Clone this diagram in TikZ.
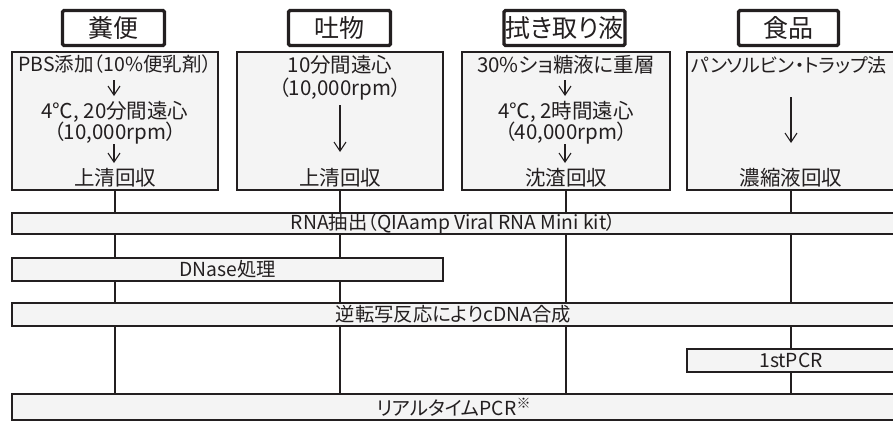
\documentclass[tikz,border=0pt]{standalone}
\usepackage{fontspec}
\setmainfont{Noto Sans CJK JP}[RawFeature={+palt}]
\usetikzlibrary{arrows.meta}
\definecolor{ln}{HTML}{231F20}
\definecolor{bg}{HTML}{F4F4F4}
\begin{document}
\begin{tikzpicture}[x=1pt,y=-1pt,
  hdr/.style={draw=ln, line width=3.4pt, rounded corners=1.5pt, fill=white,
    minimum height=35pt, inner sep=0pt, text=ln, font=\fontsize{25}{25}\selectfont},
  proc/.style={draw=ln, line width=2.2pt, fill=bg, minimum height=138pt, inner sep=0pt},
  bar/.style={draw=ln, line width=2.2pt, fill=bg, inner sep=0pt},
  txt/.style={inner sep=0pt, text=ln, font=\fontsize{20.5}{21}\selectfont},
  ntxt/.style={inner sep=0pt, text=ln, font=\fontsize{19.5}{20}\selectfont},
  btxt/.style={inner sep=0pt, text=ln, font=\fontsize{19.3}{20}\selectfont},
  con/.style={draw=ln, line width=2.2pt},
  arr/.style={draw=ln, line width=1.1pt, -{Straight Barb[length=9pt, width=12pt, line width=1.1pt]}}]
\useasboundingbox (0,0) rectangle (893,421);
\clip (0,0) rectangle (893,421);
% headers
\node[hdr, minimum width=102pt] (h1) at (113.5,28) {糞便};
\node[hdr, minimum width=102pt] (h2) at (339.5,28) {吐物};
\node[hdr, minimum width=121pt] (h3) at (564.5,28) {拭き取り液};
\node[hdr, minimum width=100pt] (h4) at (788.5,28) {食品};
% process boxes
\node[proc, minimum width=206pt] (p1) at (115,121) {};
\node[proc, minimum width=206pt] (p2) at (340,121) {};
\node[proc, minimum width=208pt] (p3) at (566,121) {};
\node[proc, minimum width=208pt] (p4) at (791,121) {};
% texts fecal
\node[ntxt] (a1) at (115,64) {PBS添加（10\%便乳剤）};
\node[txt] (a2) at (115,112) {4℃, 20分間遠心};
\node[txt] (a3) at (115,133) {（10,000rpm）};
\node[txt] (a4) at (115,178) {上清回収};
\coordinate (a1s) at (114,80); \coordinate (a1e) at (114,96);
\coordinate (a3s) at (114,144); \coordinate (a3e) at (114,163);
\draw[arr] (a1s) -- (a1e);
\draw[arr] (a3s) -- (a3e);
% vomit
\node[txt] (b1) at (340,65) {10分間遠心};
\node[txt] (b2) at (340,89) {（10,000rpm）};
\node[txt] (b3) at (340,178) {上清回収};
\coordinate (b2s) at (340,105); \coordinate (b2e) at (340,152);
\draw[arr] (b2s) -- (b2e);
% swab
\node[txt] (c1) at (566,65) {30\%ショ糖液に重層};
\node[txt] (c2) at (566,112) {4℃, 2時間遠心};
\node[txt] (c3) at (566,133) {（40,000rpm）};
\node[txt] (c4) at (566,178) {沈渣回収};
\coordinate (c1s) at (565,80); \coordinate (c1e) at (565,96);
\coordinate (c3s) at (565,144); \coordinate (c3e) at (565,163);
\draw[arr] (c1s) -- (c1e);
\draw[arr] (c3s) -- (c3e);
% food
\node[inner sep=0pt, text=ln, font=\fontsize{19}{20}\selectfont] (d1) at (789,65) {パンソルビン・トラップ法};
\node[txt] (d2) at (791,178) {濃縮液回収};
\coordinate (d1s) at (791,97); \coordinate (d1e) at (791,143);
\draw[arr] (d1s) -- (d1e);
% bars
\node[bar, minimum width=883pt, minimum height=21pt] (rna) at (453.5,223.5) {};
\node[btxt] at (453.5,223.5) {RNA抽出（QIAamp Viral RNA Mini kit）};
\node[bar, minimum width=431pt, minimum height=23pt] (dn) at (227.5,269.5) {};
\node[btxt] at (227.5,269.5) {DNase処理};
\node[bar, minimum width=883pt, minimum height=23pt] (rt) at (453.5,314.5) {};
\node[btxt] at (453.5,314.5) {逆転写反応によりcDNA合成};
\node[bar, minimum width=208pt, minimum height=23pt] (pc) at (791,360.5) {};
\node[btxt] at (791,360.5) {1stPCR};
\node[bar, minimum width=883pt, minimum height=26pt] (rl) at (453.5,407) {};
\node[btxt] at (453.5,407) {リアルタイムPCR\raisebox{7pt}{\fontsize{14}{14}\selectfont ※}};
% connectors
\draw[con] (p1.south) -- (p1.south |- rna.north);
\draw[con] (p2.south) -- (p2.south |- rna.north);
\draw[con] (p3.south) -- (p3.south |- rna.north);
\draw[con] (p4.south) -- (p4.south |- rna.north);
\draw[con] (p1.south |- rna.south) -- (p1.south |- dn.north);
\draw[con] (p2.south |- rna.south) -- (p2.south |- dn.north);
\draw[con] (p3.south |- rna.south) -- (p3.south |- rt.north);
\draw[con] (p4.south |- rna.south) -- (p4.south |- rt.north);
\draw[con] (p1.south |- dn.south) -- (p1.south |- rt.north);
\draw[con] (p2.south |- dn.south) -- (p2.south |- rt.north);
\draw[con] (p1.south |- rt.south) -- (p1.south |- rl.north);
\draw[con] (p2.south |- rt.south) -- (p2.south |- rl.north);
\draw[con] (p3.south |- rt.south) -- (p3.south |- rl.north);
\draw[con] (p4.south |- rt.south) -- (pc.north);
\draw[con] (pc.south) -- (pc.south |- rl.north);
\end{tikzpicture}
\end{document}
